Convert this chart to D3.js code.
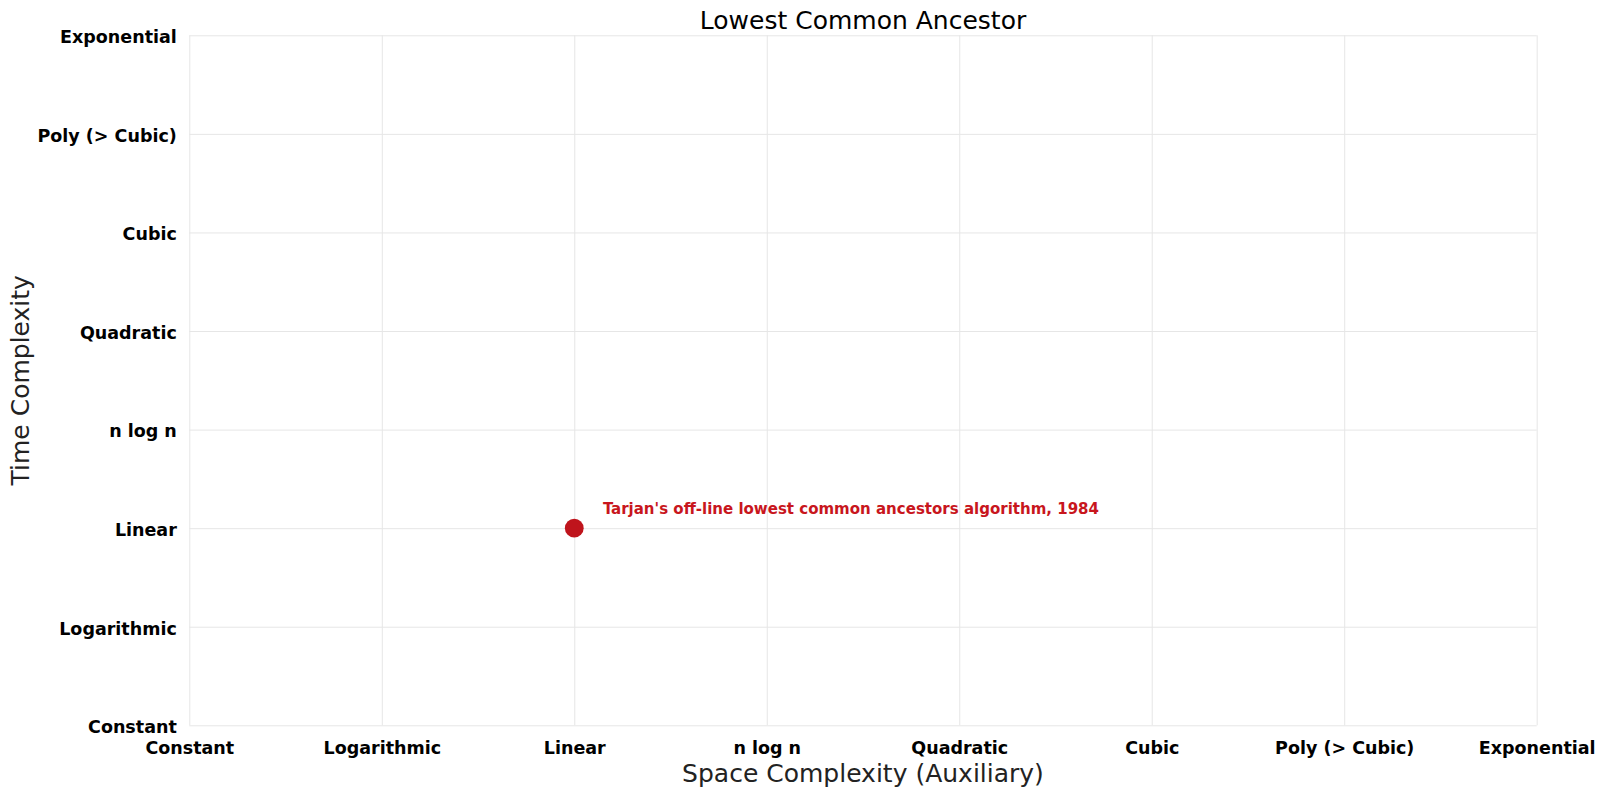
<!DOCTYPE html>
<html>
<head>
<meta charset="utf-8">
<script src="https://cdn.jsdelivr.net/npm/d3@7"></script>
<style>
  html, body { margin: 0; padding: 0; background: #fff; }
  svg { display: block; }
</style>
</head>
<body>
<svg id="chart" width="1604" height="794"></svg>
<script>
// ---- data ----
const complexityLabels = ["Constant", "Logarithmic", "Linear", "n log n", "Quadratic", "Cubic", "Poly (> Cubic)", "Exponential"];
const algorithmNames = ["Tarjan's off-line lowest common ancestors algorithm"];
const algorithmYears = [1984];
const spaceComplexity = ["Linear"];
const timeComplexity = ["Linear"];
const chartTitle = "Lowest Common Ancestor";
const xAxisTitle = "Space Complexity (Auxiliary)";
const yAxisTitle = "Time Complexity";

// ---- layout ----
const W = 1604, H = 794;
const plot = { left: 189.3, right: 1536.7, top: 35.3, bottom: 725.3 };
const svg = d3.select("#chart");

const x = d3.scalePoint().domain(complexityLabels).range([plot.left, plot.right]);
const y = d3.scalePoint().domain(complexityLabels).range([plot.bottom, plot.top]);

const gridColor = "#e6e6e6";
const tickFont = "'DejaVu Sans', sans-serif";

// grid lines
const xGrid = svg.append("g")
  .attr("transform", `translate(0,${plot.bottom})`)
  .call(d3.axisBottom(x).tickSize(-(plot.bottom - plot.top)).tickFormat(""));
xGrid.select(".domain").remove();
xGrid.selectAll("line").attr("stroke", gridColor).attr("stroke-width", 1);

const yGrid = svg.append("g")
  .attr("transform", `translate(${plot.left},0)`)
  .call(d3.axisLeft(y).tickSize(-(plot.right - plot.left)).tickFormat(""));
yGrid.select(".domain").remove();
yGrid.selectAll("line").attr("stroke", gridColor).attr("stroke-width", 1);

// x tick labels
const xAxis = svg.append("g")
  .attr("transform", `translate(0,${plot.bottom})`)
  .call(d3.axisBottom(x).tickSize(0).tickPadding(0));
xAxis.select(".domain").remove();
xAxis.selectAll("text")
  .attr("y", 28.3)
  .attr("dy", 0)
  .attr("fill", "#000")
  .style("font-family", tickFont)
  .style("font-weight", "bold")
  .style("font-size", "17.5px");

// y tick labels
const yAxis = svg.append("g")
  .attr("transform", `translate(${plot.left},0)`)
  .call(d3.axisLeft(y).tickSize(0).tickPadding(0));
yAxis.select(".domain").remove();
yAxis.selectAll("text")
  .attr("x", -12.5)
  .attr("dy", "0.42em")
  .attr("fill", "#000")
  .style("font-family", tickFont)
  .style("font-weight", "bold")
  .style("font-size", "17.5px");

// title
svg.append("text")
  .attr("x", (plot.left + plot.right) / 2)
  .attr("y", 28.5)
  .attr("text-anchor", "middle")
  .attr("fill", "#000")
  .style("font-family", tickFont)
  .style("font-size", "25px")
  .text(chartTitle);

// axis titles
svg.append("text")
  .attr("x", (plot.left + plot.right) / 2)
  .attr("y", 782)
  .attr("text-anchor", "middle")
  .attr("fill", "#222")
  .style("font-family", tickFont)
  .style("font-size", "25px")
  .text(xAxisTitle);

svg.append("text")
  .attr("transform", `translate(29,${(plot.top + plot.bottom) / 2}) rotate(-90)`)
  .attr("text-anchor", "middle")
  .attr("fill", "#222")
  .style("font-family", tickFont)
  .style("font-size", "25px")
  .text(yAxisTitle);

// points
const points = algorithmNames.map((n, i) => ({
  name: n, year: algorithmYears[i], space: spaceComplexity[i], time: timeComplexity[i]
}));

const pg = svg.append("g");
pg.selectAll("circle").data(points).join("circle")
  .attr("cx", d => x(d.space))
  .attr("cy", d => y(d.time))
  .attr("r", 9.4)
  .attr("fill", "#bf141c");

pg.selectAll("text").data(points).join("text")
  .attr("x", d => x(d.space) + 28.7)
  .attr("y", d => y(d.time) - 14)
  .attr("fill", "#c8161d")
  .style("font-family", "'DejaVu Sans Condensed', 'DejaVu Sans', sans-serif")
  .style("font-stretch", "condensed")
  .style("font-weight", "bold")
  .style("font-size", "16.7px")
  .text(d => `${d.name}, ${d.year}`);
</script>
</body>
</html>
